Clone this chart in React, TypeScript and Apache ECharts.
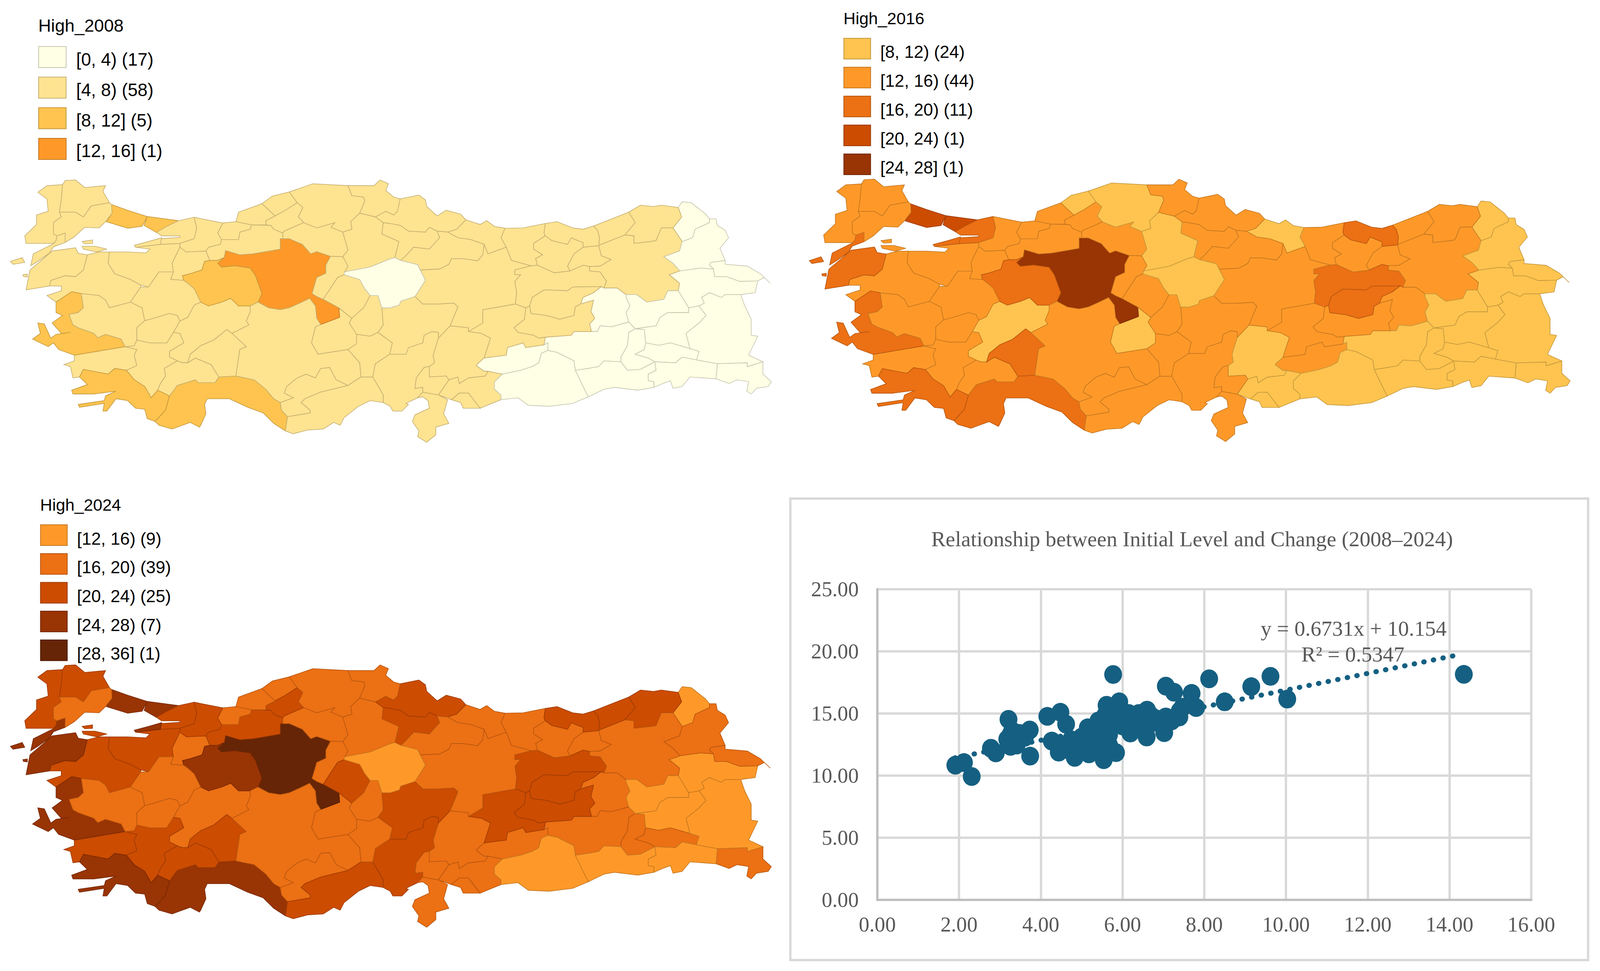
import React, { useEffect, useRef } from "react";
import * as echarts from "echarts";

const PROVINCES = ["Adana","Adıyaman","Afyon","Ağrı","Aksaray","Amasya","Ankara","Antalya","Ardahan","Artvin","Aydın","Balıkesir","Bartın","Batman","Bayburt","Bilecik","Bingöl","Bitlis","Bolu","Burdur","Bursa","Çanakkale","Çankırı","Çorum","Denizli","Diyarbakır","Düzce","Edirne","Elazığ","Erzincan","Erzurum","Eskişehir","Gaziantep","Giresun","Gümüşhane","Hakkari","Hatay","Iğdır","Isparta","İstanbul","İzmir","Kahramanmaraş","Karabük","Karaman","Kars","Kastamonu","Kayseri","Kırıkkale","Kırklareli","Kırşehir","Kilis","Kocaeli","Konya","Kütahya","Malatya","Manisa","Mardin","Mersin","Muğla","Muş","Nevşehir","Niğde","Ordu","Osmaniye","Rize","Sakarya","Samsun","Siirt","Sinop","Sivas","Şanlıurfa","Şırnak","Tekirdağ","Tokat","Trabzon","Tunceli","Uşak","Van","Yalova","Yozgat","Zonguldak"];

// Lower bound of the class each province falls in, same order as PROVINCES
const HIGH_2008 = [4,0,4,0,4,4,12,8,0,4,4,4,4,0,4,4,0,0,4,4,4,4,4,4,4,0,4,4,4,4,4,8,4,4,4,0,4,0,4,8,8,4,4,4,0,4,4,4,4,4,4,4,4,4,4,4,0,4,8,0,4,4,4,4,4,4,4,0,4,4,0,0,4,4,4,4,4,0,4,0,4];
const HIGH_2016 = [12,12,8,8,8,12,24,16,8,12,12,12,8,8,12,12,12,8,12,12,12,16,12,8,12,8,12,12,12,16,12,16,8,12,12,8,12,8,16,20,16,8,12,12,8,8,12,12,12,12,8,16,12,12,12,12,8,12,16,8,12,12,8,12,12,12,12,8,12,12,8,8,12,12,16,16,12,8,16,8,12];
const HIGH_2024 = [20,16,16,12,16,20,28,24,12,20,20,20,16,16,16,16,16,12,20,20,20,24,16,16,20,16,16,20,20,20,16,24,16,16,16,16,16,16,20,24,24,16,20,16,16,16,20,16,20,20,16,20,16,16,20,16,12,20,24,12,16,16,16,16,20,20,20,16,16,16,12,12,16,16,20,20,16,12,24,12,16];

const CLASS_COLORS: Record<number, [string, string]> = {
  0: ["#ffffe5", "#c5c5b0"],
  4: ["#fee391", "#c4ae70"],
  8: ["#fec44f", "#c4973d"],
  12: ["#fe9929", "#c47620"],
  16: ["#ec7014", "#b6560f"],
  20: ["#cc4c02", "#9d3b02"],
  24: ["#993404", "#762803"],
  28: ["#662506", "#4f1d05"],
};

const LEGEND_2008_LABELS = ["[0, 4) (17)", "[4, 8) (58)", "[8, 12] (5)", "[12, 16] (1)"];
const LEGEND_2008_CLASSES = [0, 4, 8, 12];
const LEGEND_2016_LABELS = ["[8, 12) (24)", "[12, 16) (44)", "[16, 20) (11)", "[20, 24) (1)", "[24, 28] (1)"];
const LEGEND_2016_CLASSES = [8, 12, 16, 20, 24];
const LEGEND_2024_LABELS = ["[12, 16) (9)", "[16, 20) (39)", "[20, 24) (25)", "[24, 28) (7)", "[28, 36] (1)"];
const LEGEND_2024_CLASSES = [12, 16, 20, 24, 28];

const INITIAL_LEVEL = [1.91,2.12,2.31,2.78,2.9,3.21,3.18,3.26,3.41,3.26,3.73,3.61,3.47,3.74,4.16,4.48,4.62,4.27,4.44,4.63,4.74,4.83,4.97,5.18,5.15,5.03,5.41,5.54,5.32,5.61,5.58,5.84,5.67,5.67,5.77,5.92,5.9,5.84,6.19,6.19,6.08,6.31,6.6,6.59,6.54,6.6,6.83,7.06,7.02,7.06,7.26,7.69,7.39,7.47,7.8,8.12,8.5,9.15,9.62,10.03,14.35,6.0,6.25,6.4,6.7,6.95,7.2,7.4,5.7,5.5,5.0,4.9,3.5,3.3,5.2,5.4,4.55,5.95,6.45,6.15];
const CHANGE = [10.84,11.05,9.93,12.2,11.83,14.53,12.93,12.36,12.46,13.3,13.67,13.09,13.4,11.57,14.77,15.1,14.14,12.78,11.89,12.46,12.88,11.47,12.25,11.75,13.85,12.78,14.4,11.28,13.3,15.66,14.87,11.85,12.46,13.3,18.14,15.94,15.08,14.14,14.87,13.43,14.35,14.14,15.27,13.11,14.35,13.93,14.56,14.72,13.46,17.2,16.71,16.62,14.72,15.5,15.48,17.79,15.94,17.16,17.99,16.16,18.15,14.0,14.6,15.0,14.8,14.1,14.4,15.2,14.0,14.0,13.1,12.5,13.1,13.6,12.2,12.6,12.1,14.6,14.0,15.0];
const TREND_X = [1.9, 14.2];
const TREND_Y = [11.43, 19.71];

const CHART_TITLE = "Relationship between Initial Level and Change (2008–2024)";
const EQUATION = "y = 0.6731x + 10.154";
const R_SQUARED = "R² = 0.5347";

// Province outlines (traced); "|" separates the parts of a province.
const SHAPES_WEST: Record<string, string> = {
  "Edirne": "145,190 180,155 240,150 235,230 228,295 235,320 205,350 205,410 218,420 215,445 205,460 100,460 95,420 140,360 140,310 185,290 180,225",
  "Kırklareli": "240,150 250,128 290,125 325,165 405,155 395,185 420,245 350,262 320,320 290,295 228,295 235,230",
  "Tekirdağ": "228,295 290,295 320,320 350,262 420,245 428,255 430,300 405,345 380,378 325,375 285,425 250,455 250,405 218,420 205,410 205,350 235,320",
  "Çanakkale": "218,420 250,405 250,455 205,478 190,510 145,555 118,578 128,515 205,462 215,445|200,500 290,483 300,512 335,520 320,600 290,635 250,630 195,655 190,685 100,705 115,600 150,560|40,555 85,535 95,560 50,570|88,625 105,622 105,637 90,635",
  "İstanbul": "428,255 490,285 565,318 545,370 490,380 408,345 430,300|565,318 685,340 640,370 600,402 553,365",
  "Kocaeli": "600,402 640,370 685,340 745,322 755,380 745,435 690,460 615,465 615,435 690,428 690,420 620,420",
  "Yalova": "515,470 570,450 620,430 615,465 520,480",
  "Sakarya": "745,322 855,352 835,405 850,440 845,465 800,480 790,500 715,505 690,480 690,460 745,435 755,380",
  "Düzce": "855,352 905,345 965,362 960,385 920,400 915,440 850,440 835,405",
  "Zonguldak": "905,345 915,295 1005,250 1055,315 1020,340 1020,362 965,362",
  "Bartın": "1005,250 1045,210 1110,188 1140,245 1095,285 1055,315",
  "Karabük": "1020,362 1020,340 1055,315 1095,285 1140,245 1162,270 1145,320 1165,350 1090,395 1085,405 1050,385 1040,365",
  "Bolu": "965,362 1040,365 1050,385 1085,405 1085,435 1075,435 1075,490 970,515 920,520 865,497 860,535 835,550 805,550 790,500 800,480 845,465 850,440 915,440 920,400 960,385",
  "Ankara": "1075,435 1110,435 1160,465 1192,515 1215,503 1268,528 1250,575 1250,618 1215,640 1197,725 1215,740 1240,755 1300,800 1303,850 1265,870 1230,888 1215,855 1210,790 1188,750 1150,775 1110,800 1075,810 1030,800 990,770 1005,725 980,630 960,590 900,578 850,585 835,565 860,535 865,497 920,520 970,515 1075,490",
  "Çankırı": "1085,405 1090,395 1165,350 1215,378 1285,350 1270,375 1315,400 1335,495 1315,530 1268,528 1215,503 1192,515 1160,465 1110,435 1085,435",
  "Kastamonu": "1110,188 1200,145 1335,155 1350,208 1395,215 1400,235 1380,300 1345,345 1350,385 1315,400 1270,375 1285,350 1215,378 1165,350 1145,320 1162,270 1140,245",
  "Sinop": "1335,155 1435,155 1458,125 1490,145 1480,180 1510,215 1535,225 1525,290 1510,310 1480,290 1440,320 1380,300 1400,235 1395,215 1350,208",
  "Çorum": "1380,300 1440,320 1470,350 1465,410 1530,450 1515,535 1490,545 1420,585 1322,610 1335,580 1315,530 1335,495 1315,400 1350,385 1345,345",
  "Kırıkkale": "1268,528 1315,530 1335,580 1322,610 1320,625 1295,640 1240,755 1215,740 1197,725 1215,640 1250,618 1250,575",
  "Kırşehir": "1240,755 1295,640 1320,625 1380,650 1400,700 1420,735 1395,800 1350,855 1300,800",
  "Nevşehir": "1420,735 1450,735 1465,800 1470,890 1450,930 1420,950 1368,940 1340,880 1350,855 1395,800",
  "Aksaray": "1230,888 1265,870 1303,850 1300,800 1350,855 1340,880 1368,940 1368,990 1335,1020 1220,1045 1195,985 1210,900",
  "Niğde": "1335,1020 1368,990 1368,940 1420,950 1450,930 1470,950 1505,985 1495,1045 1440,1095 1430,1165 1385,1165 1380,1090",
  "Konya": "960,790 990,770 1030,800 1075,810 1110,800 1150,775 1188,750 1210,790 1215,855 1230,888 1210,900 1195,985 1220,1045 1335,1020 1380,1090 1385,1165 1335,1210 1290,1180 1265,1115 1230,1120 1210,1170 1175,1150 1140,1170 1100,1215 1090,1250 1125,1275 1075,1300 1050,1280 1020,1230 975,1180 905,1160 920,1020 945,1005 890,935 955,890 945,870 960,820",
  "Isparta": "870,915 890,935 945,1005 920,1020 905,1160 840,1165 810,1100 750,1065 720,1090 730,1045 770,1000 820,970",
  "Burdur": "630,1120 680,1080 700,1090 720,1090 750,1065 810,1100 840,1165 825,1195 760,1195 750,1180 680,1210 650,1265 605,1235 615,1200 635,1160",
  "Afyon": "770,770 800,790 850,770 885,750 915,790 960,790 960,820 945,870 955,890 890,935 870,915 820,970 770,1000 730,1045 720,1090 700,1090 680,1080 650,1060 650,1030 705,985 690,935 665,930 690,870 720,850 745,785",
  "Kütahya": "500,770 540,690 570,690 590,650 610,610 665,610 655,650 705,655 720,670 745,700 770,770 745,785 720,850 690,870 680,840 650,830 590,855 555,868 545,800",
  "Uşak": "555,868 590,855 650,830 680,840 690,870 665,930 640,985 575,985 525,970 525,905",
  "Denizli": "525,970 575,985 640,985 665,930 690,935 705,985 650,1030 650,1060 680,1080 630,1120 635,1160 615,1200 605,1235 580,1275 555,1215 515,1180 485,1130 525,1105 515,1050 525,1020 480,1005 515,1000",
  "Aydın": "285,1050 480,1005 525,1020 515,1050 525,1105 485,1130 440,1120 415,1150 320,1125 305,1165 280,1170 270,1110 245,1100 285,1080",
  "Muğla": "320,1125 415,1150 440,1120 485,1130 515,1180 555,1215 580,1275 605,1235 650,1265 635,1340 595,1400 565,1385 555,1335 520,1330 490,1290 445,1280 410,1345 395,1345 400,1305 305,1325 300,1310 400,1290 405,1265 445,1240 360,1255 280,1255 275,1235 335,1205 305,1165",
  "Antalya": "650,1265 680,1210 750,1180 760,1195 825,1195 840,1165 905,1160 975,1180 1020,1230 1050,1280 1075,1300 1080,1340 1103,1375 1095,1450 1050,1410 1010,1355 950,1325 880,1280 795,1280 785,1310 790,1360 770,1420 765,1430 730,1405 660,1440 610,1420 595,1400 635,1340",
  "Karaman": "1075,1300 1125,1275 1090,1250 1100,1215 1140,1170 1175,1150 1210,1170 1230,1120 1265,1115 1290,1180 1335,1210 1230,1245 1170,1280 1155,1300 1190,1340 1190,1355 1103,1375 1080,1340",
  "Mersin": "1103,1375 1190,1355 1190,1340 1155,1300 1170,1280 1230,1245 1335,1210 1385,1165 1430,1165 1470,1260 1470,1300 1420,1290 1375,1320 1320,1380 1305,1420 1280,1405 1240,1440 1180,1445 1125,1465 1095,1450",
  "Bursa": "420,505 490,505 560,510 575,490 520,480 615,465 690,460 690,480 660,565 665,610 610,610 590,650 570,690 540,680 500,650 440,620 415,565",
  "Bilecik": "690,480 715,505 790,500 805,550 785,555 775,600 730,620 700,630 705,655 655,650 665,610 660,565",
  "Eskişehir": "805,550 835,550 860,535 835,565 850,585 900,578 960,590 980,630 1005,725 990,770 960,790 915,790 885,750 850,770 800,790 770,770 745,700 720,670 705,655 700,630 730,620 775,600 785,555",
  "Balıkesir": "335,520 380,505 420,505 415,565 440,620 500,650 540,680 540,690 500,770 420,800 405,760 380,735 312,725 275,715 215,770 180,735 235,710 235,685 190,685 195,655 250,630 290,635 320,600|315,450 355,442 355,460 325,462|315,475 365,475 410,490 370,505 320,490",
  "İzmir": "215,770 275,715 312,725 320,800 300,825 265,835 280,890 300,905 360,935 375,958 405,940 465,965 480,1005 285,1050 225,1020 205,985 185,1005 125,965 155,935 145,880 170,885 195,960 215,940 270,930 235,935 200,880 240,840 215,825 215,785",
  "Manisa": "312,725 380,735 405,760 420,800 500,770 545,800 555,868 525,905 525,970 515,1000 480,1005 465,965 405,940 375,958 360,935 300,905 280,890 265,835 300,825 320,800",
};

const SHAPES_EAST: Record<string, string> = {
  "Samsun": "38,225 110,205 135,230 140,265 180,315 215,285 270,305 290,335 255,385 220,400 180,395 150,375 135,400 70,395 40,365 0,355 -27,350 -57,320 -17,290 13,310 28,290",
  "Amasya": "-27,350 0,355 40,365 70,395 135,400 150,375 180,395 190,430 150,490 90,480 60,525 40,550 18,535 33,450 -32,410",
  "Tokat": "40,550 60,525 90,480 150,490 190,430 180,395 220,400 260,430 310,440 360,465 355,520 335,552 280,540 235,540 225,570 190,595 115,600 105,572",
  "Yozgat": "-175,610 -77,585 -7,545 18,535 40,550 105,572 115,600 135,655 95,740 40,765 35,785 0,800 -32,800 -47,735 -77,735 -97,700 -117,650 -177,625",
  "Kayseri": "-32,800 0,800 35,785 40,765 95,740 125,780 180,780 245,775 260,795 230,895 185,960 185,930 160,925 130,945 125,985 70,1010 60,1045 30,1045 -2,1045 8,985 -27,950 -47,930 -27,890",
  "Adana": "-67,1165 -57,1095 -2,1045 30,1045 60,1045 70,1010 125,985 130,945 160,925 185,930 185,960 165,1050 170,1090 150,1110 130,1115 100,1170 95,1225 125,1220 125,1245 105,1275 60,1305 70,1310 45,1345 10,1345 0,1320 -27,1300 -27,1260",
  "Osmaniye": "130,1115 150,1110 150,1165 215,1160 225,1180 185,1260 125,1245 125,1220 95,1225 100,1170",
  "Hatay": "105,1275 125,1245 185,1260 220,1285 205,1360 225,1410 175,1430 175,1470 140,1510 105,1480 110,1450 85,1400 95,1365 150,1330 145,1290 125,1270",
  "Gaziantep": "225,1180 260,1165 265,1200 300,1170 365,1160 375,1135 430,1150 400,1190 400,1230 425,1260 425,1285 345,1330 300,1250 265,1250 235,1285 185,1260",
  "Kilis": "235,1285 265,1250 300,1250 345,1330 280,1330 270,1300",
  "Kahramanmaraş": "230,895 300,905 300,925 350,935 385,960 360,1065 335,1095 330,1105 360,1135 375,1135 365,1160 300,1170 265,1200 260,1165 225,1180 215,1160 150,1165 150,1110 170,1090 165,1050 185,960",
  "Malatya": "300,925 355,880 355,810 480,780 520,800 515,860 475,905 490,930 550,945 570,960 595,955 590,995 520,1010 510,985 450,1010 445,1050 360,1065 385,960 350,935",
  "Adıyaman": "335,1095 360,1065 445,1050 450,1010 510,985 520,1010 590,995 605,985 605,1025 580,1040 570,1090 545,1110 500,1130 430,1150 375,1135 360,1135 330,1105",
  "Şanlıurfa": "430,1150 500,1130 545,1110 570,1090 580,1040 605,1025 640,1035 705,1080 710,1130 745,1230 760,1270 700,1305 610,1320 530,1315 490,1275 425,1285 425,1260 400,1230 400,1190",
  "Diyarbakır": "595,955 695,945 705,925 772,925 795,925 805,895 850,900 915,875 940,910 915,930 910,1000 885,1060 885,1085 820,1080 800,1110 760,1120 710,1130 705,1080 640,1035 605,1025 605,985 590,995",
  "Mardin": "710,1130 760,1120 800,1110 820,1080 885,1085 910,1130 960,1125 1015,1085 1020,1130 990,1150 990,1185 1012,1190 1012,1220 950,1235 860,1220 820,1230 760,1270 745,1230",
  "Batman": "915,930 940,910 975,915 980,985 975,1020 940,1045 990,1065 1015,1085 960,1125 910,1130 885,1085 885,1060 910,1000",
  "Siirt": "980,985 1030,998 1075,985 1150,1015 1185,1030 1185,1060 1175,1075 1120,1060 1095,1090 1015,1085 990,1065 940,1045 975,1020",
  "Şırnak": "1015,1085 1095,1090 1120,1060 1175,1075 1255,1095 1250,1175 1200,1170 1150,1165 1120,1215 1085,1225 1075,1185 1045,1200 1012,1220 1012,1190 990,1185 990,1150 1020,1130",
  "Hakkari": "1255,1095 1370,1090 1370,1110 1430,1085 1430,1150 1462,1190 1450,1215 1405,1225 1385,1255 1368,1240 1375,1190 1330,1180 1300,1200 1250,1175",
  "Van": "1185,790 1205,775 1195,745 1225,720 1270,745 1285,730 1345,730 1360,790 1385,860 1385,945 1410,950 1375,1050 1430,1085 1370,1110 1370,1090 1255,1095 1175,1075 1185,1030 1150,1015 1135,935 1185,880 1212,840",
  "Bitlis": "940,910 1020,895 1035,850 1065,825 1145,825 1145,800 1185,790 1212,840 1185,880 1135,935 1150,1015 1075,985 1030,998 980,985 975,915",
  "Muş": "905,730 945,730 985,770 1050,755 1065,710 1105,710 1145,800 1145,825 1065,825 1035,850 1020,895 940,910 915,875 905,825 920,790 905,745",
  "Ağrı": "1070,625 1112,605 1190,590 1240,595 1245,635 1290,635 1340,660 1410,658 1400,720 1345,730 1285,730 1270,745 1225,720 1195,745 1205,775 1185,790 1145,800 1105,710 1110,670",
  "Iğdır": "1230,560 1285,550 1285,570 1370,580 1420,620 1458,670 1435,640 1410,658 1340,660 1290,635 1245,635 1240,595 1225,575",
  "Kars": "1120,450 1160,430 1170,385 1225,350 1225,330 1250,330 1255,365 1285,390 1298,430 1265,485 1285,550 1230,560 1225,575 1240,595 1190,590 1112,605 1085,565 1050,530 1110,500",
  "Ardahan": "1105,270 1120,240 1155,245 1210,305 1225,330 1225,350 1170,385 1160,430 1120,450 1085,378 1118,320",
  "Artvin": "915,295 960,258 1010,265 1040,258 1105,270 1118,320 1085,378 1040,378 1020,445 1000,450 935,460 935,420 900,415 940,350",
  "Rize": "780,368 850,330 915,295 940,350 900,415 800,470 803,430 795,390",
  "Trabzon": "595,355 640,345 700,378 740,385 780,368 795,390 803,430 800,472 740,480 740,455 720,445 695,430 680,465 620,445 595,420 590,405",
  "Giresun": "440,380 510,378 595,355 590,405 595,420 550,460 550,490 585,520 558,540 565,575 540,578 465,550 445,480 425,430",
  "Ordu": "290,335 345,360 370,340 400,370 440,380 425,430 445,480 375,515 360,465 310,440 260,430 220,400 255,385",
  "Gümüşhane": "595,420 620,445 680,465 695,430 720,445 740,455 740,480 705,515 680,580 690,605 630,615 565,575 558,540 585,520 550,490 550,460",
  "Bayburt": "740,480 800,472 810,525 848,545 805,580 765,582 740,575 690,605 680,580 705,515",
  "Erzurum": "800,470 900,415 935,420 935,460 1000,450 1020,445 1040,378 1085,378 1120,450 1110,500 1050,530 1085,565 1112,605 1070,625 1110,670 1105,710 1065,710 1050,755 985,770 945,730 905,730 870,695 820,695 830,660 805,610 765,605 765,582 805,580 848,545 810,525",
  "Erzincan": "478,600 540,578 565,575 630,615 690,605 740,575 765,582 765,605 805,610 830,660 820,695 810,688 700,690 680,710 590,705 545,745 535,790 520,800 480,780 485,720 478,660 500,625 478,625",
  "Tunceli": "545,745 590,705 680,710 700,690 810,688 780,720 740,745 730,780 710,795 705,840 650,860 600,840 540,830 535,790",
  "Elazığ": "520,800 535,790 540,830 600,840 650,860 705,840 710,795 730,780 780,760 770,820 785,855 765,885 772,925 705,925 695,945 595,955 570,960 550,945 490,930 475,905 515,860",
  "Bingöl": "820,695 870,695 905,730 905,745 920,790 905,825 915,875 850,900 805,895 795,925 772,925 765,885 785,855 770,820 780,760 730,780 740,745 780,720 810,688",
  "Sivas": "115,600 190,595 225,570 235,540 280,540 335,552 355,520 360,465 375,515 445,480 465,550 540,578 478,600 478,625 500,625 478,660 485,720 480,780 355,810 355,880 300,925 300,905 230,895 260,795 245,775 180,780 125,780 95,740 135,655",
};

const EAST_OFFSET = 1497;
const SCALE_X = 1 / 1.4255;
const SCALE_Y = 1 / 2.063;
const ORIGIN_Y = 400;
const MAP_OFFSETS = [[0, 0], [2150, -2], [0, 1241]];
const REF_W = 4306;
const REF_H = 2485;

function parseShape(text: string, dx: number) {
  return text.split("|").map((part) => [
    part.split(" ").map((pair) => {
      const [a, b] = pair.split(",").map(Number);
      return [a + dx, -b];
    }),
  ]);
}

function buildGeo() {
  let minU = Infinity, maxU = -Infinity, minV = Infinity, maxV = -Infinity;
  const features = PROVINCES.map((name) => {
    const coordinates = SHAPES_WEST[name] ? parseShape(SHAPES_WEST[name], 0) : parseShape(SHAPES_EAST[name], EAST_OFFSET);
    coordinates.forEach((poly) => poly[0].forEach(([u, v]) => {
      minU = Math.min(minU, u); maxU = Math.max(maxU, u);
      minV = Math.min(minV, -v); maxV = Math.max(maxV, -v);
    }));
    return { type: "Feature", properties: { name }, geometry: { type: "MultiPolygon", coordinates } };
  });
  return { geo: { type: "FeatureCollection", features }, box: { left: minU * SCALE_X, top: ORIGIN_Y + minV * SCALE_Y, width: (maxU - minU) * SCALE_X, height: (maxV - minV) * SCALE_Y } };
}

export default function App() {
  const ref = useRef<HTMLDivElement>(null);
  const W = Math.min(window.innerWidth || REF_W, REF_W);
  const H = Math.min(window.innerHeight || REF_H, REF_H);
  const sx = W / REF_W;
  const sy = H / REF_H;
  useEffect(() => {
    if (!ref.current) return;
    const { geo, box } = buildGeo();
    ["turkey2008", "turkey2016", "turkey2024"].forEach((n) => echarts.registerMap(n, geo as any));
    const chart = echarts.init(ref.current, undefined, { renderer: "svg" });
    const serif = '"Liberation Serif"';
    const fs = (n: number) => n * sx;

    const mapSeries = (mapName: string, values: number[], offset: number[]) => ({
      type: "map", map: mapName, silent: true, roam: false, selectedMode: false,
      left: (box.left + offset[0]) * sx, top: (box.top + offset[1]) * sy, width: box.width * sx, height: box.height * sy,
      aspectScale: 1, label: { show: false },
      data: PROVINCES.map((name, i) => ({
        name, value: values[i],
        itemStyle: { areaColor: CLASS_COLORS[values[i]][0], borderColor: CLASS_COLORS[values[i]][1], borderWidth: 1.6 },
      })),
    });

    const legend = (title: string, labels: string[], classes: number[], o: any) => {
      const items: any[] = [{
        type: "text", x: o.x * sx, y: o.titleY * sy,
        style: { text: title, font: `${fs(o.titleSize)}px "Liberation Sans"`, fill: "#000", align: "left", verticalAlign: "middle" },
      }];
      labels.forEach((label, i) => {
        const [fill, stroke] = CLASS_COLORS[classes[i]];
        items.push({ type: "rect", shape: { x: (o.x + 1) * sx, y: (o.y + i * o.step + 1) * sy, width: (o.w - 2) * sx, height: (o.h - 2) * sy }, style: { fill, stroke, lineWidth: 2 } });
        items.push({
          type: "text", x: o.textX * sx, y: (o.y + i * o.step + o.textDy) * sy,
          style: { text: label, font: `${fs(o.size)}px "Liberation Sans"`, fill: "#000", align: "left", verticalAlign: "middle" },
        });
      });
      return items;
    };

    chart.setOption({
      animation: false,
      backgroundColor: "#fff",
      title: {
        text: CHART_TITLE, left: 3203 * sx, top: 1374 * sy, textAlign: "center", textVerticalAlign: "middle",
        textStyle: { fontFamily: serif, fontSize: fs(58), fontWeight: "normal", color: "#595959" },
      },
      grid: { left: 2361 * sx, top: 1508 * sy, width: 1760 * sx, height: 795 * sy },
      xAxis: {
        type: "value", min: 0, max: 16, interval: 2,
        axisLine: { show: true, onZero: false, lineStyle: { color: "#bfbfbf", width: 6 } }, axisTick: { show: false },
        splitLine: { show: true, lineStyle: { color: "#d9d9d9", width: 6 } },
        axisLabel: { fontFamily: serif, fontSize: fs(57), color: "#595959", margin: 36, formatter: (v: number) => v.toFixed(2) },
      },
      yAxis: {
        type: "value", min: 0, max: 25, interval: 5,
        axisLine: { show: true, onZero: false, lineStyle: { color: "#bfbfbf", width: 6 } }, axisTick: { show: false },
        splitLine: { show: true, lineStyle: { color: "#d9d9d9", width: 6 } },
        axisLabel: { fontFamily: serif, fontSize: fs(57), color: "#595959", margin: 50 * sx, formatter: (v: number) => v.toFixed(2) },
      },
      series: [
        mapSeries("turkey2008", HIGH_2008, MAP_OFFSETS[0]),
        mapSeries("turkey2016", HIGH_2016, MAP_OFFSETS[1]),
        mapSeries("turkey2024", HIGH_2024, MAP_OFFSETS[2]),
        {
          type: "line", showSymbol: false, silent: true, z: 3,
          data: TREND_X.map((x, i) => [x, TREND_Y[i]]),
          lineStyle: { color: "#156082", width: 13, type: [1, 24], cap: "round" },
        },
        {
          type: "scatter", silent: true, z: 4, symbolSize: [48 * sx, 48 * sy],
          data: INITIAL_LEVEL.map((x, i) => [x, CHANGE[i]]),
          itemStyle: { color: "#156082", opacity: 1 },
        },
      ],
      graphic: [
        { type: "rect", z: -10, shape: { x: 2127 * sx, y: 1276 * sy, width: 2147 * sx, height: 1181 * sy }, style: { fill: "#fff", stroke: "#d9d9d9", lineWidth: 6 }, silent: true },
        { type: "text", z: 10, x: 3643 * sx, y: 1608 * sy, style: { text: EQUATION, font: `${fs(58)}px ${serif}`, fill: "#595959", align: "center", verticalAlign: "middle" } },
        { type: "text", z: 10, x: 3641 * sx, y: 1674 * sy, style: { text: R_SQUARED, font: `${fs(58)}px ${serif}`, fill: "#595959", align: "center", verticalAlign: "middle" } },
        ...legend("High_2008", LEGEND_2008_LABELS, LEGEND_2008_CLASSES, { x: 103, y: 118, w: 76, h: 56, step: 78.3, textX: 205, textDy: 34, size: 48, titleY: 65, titleSize: 47.5 }),
        ...legend("High_2016", LEGEND_2016_LABELS, LEGEND_2016_CLASSES, { x: 2270, y: 97, w: 74, h: 55, step: 74, textX: 2369, textDy: 35, size: 46.5, titleY: 47, titleSize: 45 }),
        ...legend("High_2024", LEGEND_2024_LABELS, LEGEND_2024_CLASSES, { x: 108, y: 1342, w: 74, h: 55, step: 73.7, textX: 207, textDy: 36, size: 46.5, titleY: 1292, titleSize: 45 }),
      ],
    });
    return () => chart.dispose();
  }, []);
  return <div ref={ref} style={{ position: "absolute", left: 0, top: 0, width: W, height: H }} />;
}
